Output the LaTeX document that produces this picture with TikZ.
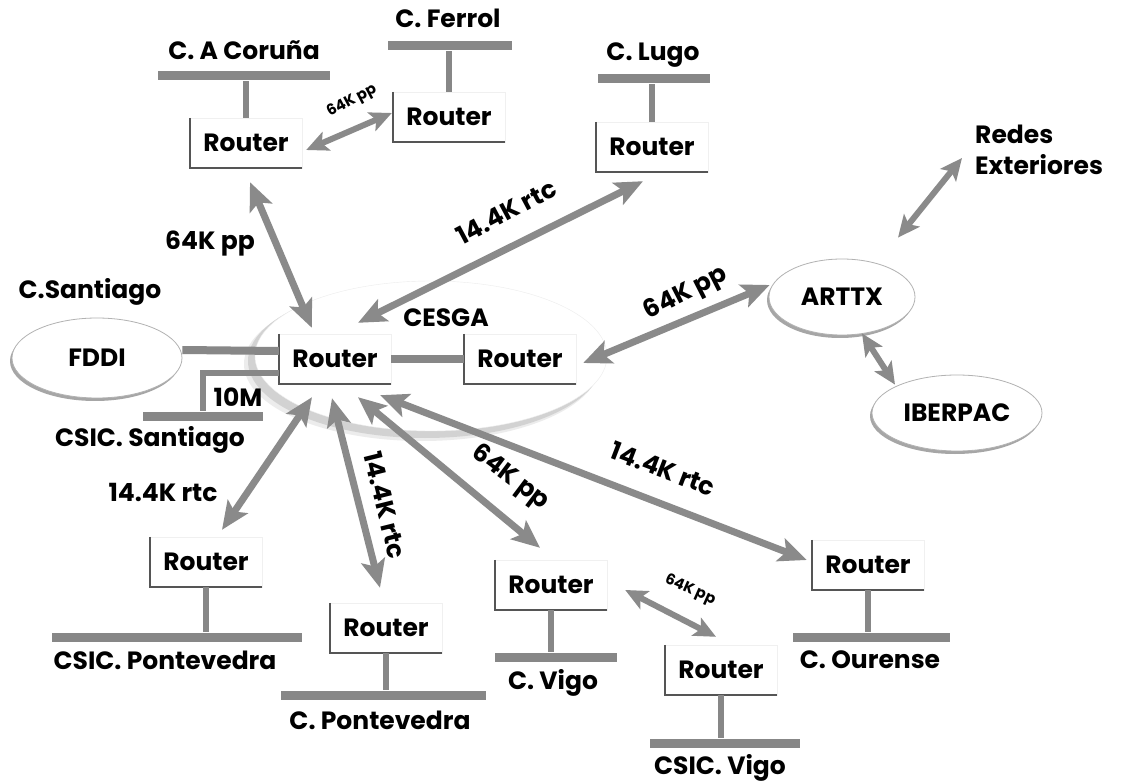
\documentclass[tikz,border=0pt]{standalone}
\usepackage{fontspec}
\setmainfont{Poppins}
\usetikzlibrary{arrows.meta,calc,shapes.geometric,shadows}
\definecolor{agray}{RGB}{138,138,138}
\definecolor{bargray}{RGB}{135,135,135}
\definecolor{edgegray}{RGB}{85,85,85}
\newcommand\rtr[3]{\node[routerbox] (#1) at (#2,#3) {Router};
  \draw[boxedge] (#1.north west) -- (#1.south west) -- (#1.south east);}
\begin{document}
\begin{tikzpicture}[x=1pt,y=-1pt,
  lbl/.style={font=\bfseries\fontsize{25}{31}\selectfont, inner sep=0pt},
  smalllbl/.style={font=\bfseries\fontsize{15}{17}\selectfont, inner sep=0pt},
  routerbox/.style={fill=white, draw=gray!12, minimum width=112pt, minimum height=50pt, inner sep=0pt, font=\bfseries\fontsize{25}{28}\selectfont},
  boxedge/.style={draw=edgegray, line width=2.2pt},
  lanbar/.style={fill=bargray, draw=none, inner sep=0pt, minimum height=9pt},
  stem/.style={draw=bargray, line width=6pt},
  dlink/.style={draw=agray, line width=7pt, {Stealth[length=28pt,width=24pt,inset=6pt]}-{Stealth[length=28pt,width=24pt,inset=6pt]}},
  slink/.style={draw=agray, line width=6pt, {Stealth[length=22pt,width=20pt,inset=5pt]}-{Stealth[length=22pt,width=20pt,inset=5pt]}},
  netoval/.style={ellipse, fill=white, draw=gray!60, line width=0.8pt, inner sep=0pt,
    drop shadow={shadow xshift=-2pt, shadow yshift=-3pt, fill=gray!70, opacity=1},
    font=\bfseries\fontsize{25}{28}\selectfont}
]
\fill[white] (0,0) rectangle (1127,783);
\useasboundingbox (0,0) rectangle (1127,783);

% CESGA ellipse
\fill[gray!15] (422,364) ellipse [x radius=178, y radius=77];
\fill[gray!35] (425,361) ellipse [x radius=177, y radius=77];
\node[ellipse, fill=white, draw=gray!15, minimum width=352pt, minimum height=150pt, inner sep=0pt] (cesga) at (431,356) {};
\node[lbl] (tces) at (446,318) {CESGA};

% top group
\node[lbl] (tcor) at (244,50) {C. A Coruña};
\node[lanbar, minimum width=172pt] (lcor) at (244,76) {};
\rtr{rcor}{246}{143}
\draw[stem] (rcor.north) -- (rcor.north |- lcor.south);

\node[lbl] (tfer) at (448,18) {C. Ferrol};
\node[lanbar, minimum width=124pt] (lfer) at (450,46) {};
\rtr{rfer}{449}{117}
\draw[stem] (rfer.north) -- (rfer.north |- lfer.south);

\node[lbl] (tlug) at (653,55) {C. Lugo};
\node[lanbar, minimum width=112pt] (llug) at (654,79) {};
\rtr{rlug}{652}{147}
\draw[stem] (rlug.north) -- (rlug.north |- llug.south);

% centre
\rtr{rc}{335}{359}
\rtr{rc2}{520}{359}
\draw[stem, line width=8pt] (rc.east) -- (rc2.west);

\node[lbl] (tsan) at (90,292) {C.Santiago};
\node[netoval, minimum width=170pt, minimum height=80pt] (fddi) at (97,358) {FDDI};
\draw[stem, line width=8pt] ([yshift=8pt]fddi.east) -- ([yshift=8pt]rc.west);

\node[lanbar, minimum width=120pt] (lcsan) at (203,416) {};
\draw[stem] ([yshift=-14pt]rc.west) -| (lcsan.north);
\node[lbl] (t10m) at (238,397) {10M};
\node[lbl] (tcsan) at (150,440) {CSIC. Santiago};

% right
\node[lbl, align=left, anchor=west] (tred) at (975,150) {Redes\\Exteriores};
\node[netoval, minimum width=146pt, minimum height=76pt] (arttx) at (842,297) {ARTTX};
\node[netoval, minimum width=170pt, minimum height=76pt] (iber) at (957,413) {IBERPAC};

% bottom
\rtr{rcp}{206}{562}
\node[lanbar, minimum width=250pt] (lcp) at (177,637) {};
\draw[stem] (rcp.south) -- (rcp.south |- lcp.north);
\node[lbl] (tcp) at (165,660) {CSIC. Pontevedra};

\rtr{rpo}{386}{628}
\node[lanbar, minimum width=205pt] (lpo) at (383,695) {};
\draw[stem] (rpo.south) -- (rpo.south |- lpo.north);
\node[lbl] (tpo) at (380,720) {C. Pontevedra};

\rtr{rvi}{551}{585}
\node[lanbar, minimum width=122pt] (lvi) at (556,657) {};
\draw[stem] (rvi.south) -- (rvi.south |- lvi.north);
\node[lbl] (tvi) at (553,683) {C. Vigo};

\rtr{rcv}{721}{670}
\node[lanbar, minimum width=150pt] (lcv) at (725,743) {};
\draw[stem] (rcv.south) -- (rcv.south |- lcv.north);
\node[lbl] (tcv) at (720,768) {CSIC. Vigo};

\rtr{rou}{868}{565}
\node[lanbar, minimum width=157pt] (lou) at (871,637) {};
\draw[stem] (rou.south) -- (rou.south |- lou.north);
\node[lbl] (tou) at (870,660) {C. Ourense};

% links
\draw[dlink] ($(rcor.south)+(4,14)$) -- ($(rc.north west)+(33,-6)$);
\draw[dlink] ($(rlug.south)+(-9,9)$) -- ($(rc.north)+(23,-11)$);
\draw[slink] ($(rcor.east)+(4,7)$) -- ($(rfer.west)+(-1,-4)$);
\draw[dlink] ($(rc2.east)+(7,4)$) -- ($(arttx.west)+(1,-12)$);
\draw[slink] ($(arttx.north)+(56,-21)$) -- ($(tred.west)+(-13,8)$);
\draw[slink] ($(arttx.south)+(20,-2)$) -- ($(iber.north)+(-62,10)$);
\draw[dlink] ($(rc.south)+(-23,13)$) -- ($(rcp.north)+(16,-7)$);
\draw[dlink] ($(rc.south)+(-3,14)$) -- ($(rpo.north)+(-6,-15)$);
\draw[dlink] ($(rc.south)+(23,13)$) -- ($(rvi.north)+(-11,-12)$);
\draw[dlink] ($(rc.south east)+(-11,11)$) -- ($(rou.west)+(-5,-5)$);
\draw[slink] ($(rvi.east)+(18,5)$) -- ($(rcv.north)+(-5,-8)$);

% link labels
\node[lbl] (l1) at (210,244) {64K pp};
\node[lbl, rotate=28] (l2) at (506,212) {14.4K rtc};
\node[smalllbl, rotate=28] (l3) at (352,101) {64K pp};
\node[lbl, rotate=27] (l4) at (686,294) {64K pp};
\node[lbl] (l7) at (163,492) {14.4K rtc};
\node[lbl, rotate=-76] (l8) at (385,505) {14.4K rtc};
\node[lbl, rotate=-37] (l9) at (510,478) {64K pp};
\node[lbl, rotate=-21] (l10) at (663,469) {14.4K rtc};
\node[smalllbl, rotate=-24] (l11) at (690,590) {64K pp};
\end{tikzpicture}
\end{document}
